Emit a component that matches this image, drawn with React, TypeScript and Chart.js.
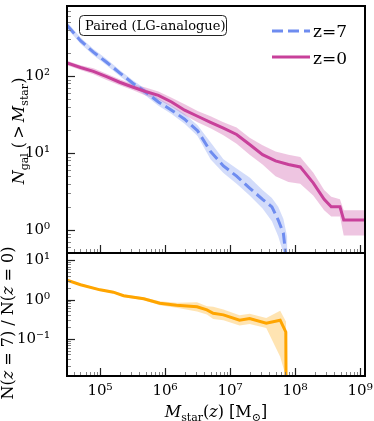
import React, { useEffect, useRef } from 'react';
import { Chart, registerables } from 'chart.js';
Chart.register(...registerables);

// ---------- data ----------
const MASS_Z0 = [3.1e4, 5.0e4, 7.9e4, 1.26e5, 2.0e5, 3.16e5, 5.0e5, 7.9e5, 1.26e6, 2.0e6, 3.16e6, 5.0e6, 7.9e6, 1.26e7, 2.0e7, 3.16e7, 5.0e7, 7.9e7, 1.2e8, 1.9e8, 2.8e8, 3.6e8, 4.9e8, 5.6e8, 1.6e9];
const N_Z0 = [148, 129, 115, 98, 83, 72, 63, 56, 46, 36, 30, 25, 21, 17.4, 12.9, 9.5, 7.9, 7.1, 6.6, 4.1, 2.5, 2.0, 2.0, 1.35, 1.35];
const N_Z0_LO = [138, 120, 105, 89, 76, 66, 56, 49, 40, 31, 25, 21, 17, 13.2, 9.5, 7.1, 5.0, 4.2, 4.0, 2.8, 1.8, 1.5, 1.5, 0.85, 0.85];
const N_Z0_HI = [158, 138, 126, 107, 91, 79, 71, 63, 52, 43, 35, 30, 25, 21.4, 15.8, 12.6, 10.5, 9.5, 8.9, 5.6, 3.3, 2.7, 2.5, 1.8, 1.8];

const MASS_Z7 = [3.1e4, 5.0e4, 7.9e4, 1.26e5, 2.0e5, 3.16e5, 5.0e5, 7.9e5, 1.26e6, 2.0e6, 3.16e6, 5.0e6, 7.9e6, 1.26e7, 2.0e7, 3.16e7, 4.4e7, 5.5e7, 6.6e7, 7.6e7];
const N_Z7 = [457, 288, 204, 151, 110, 81, 62, 46, 36, 27.5, 19.5, 10.5, 6.8, 5.0, 3.5, 2.5, 2.0, 1.35, 0.91, 0.32];
const N_Z7_LO = [417, 263, 186, 138, 100, 74, 56, 41, 32, 24, 16.6, 8.3, 5.5, 4.0, 2.8, 1.9, 1.3, 0.83, 0.5, 0.25];
const N_Z7_HI = [501, 316, 224, 166, 120, 89, 68, 51, 41, 32, 22.9, 13.8, 8.3, 6.3, 4.8, 3.3, 2.6, 2.0, 1.4, 0.8];

const MASS_RATIO = [3.1e4, 5.0e4, 1.0e5, 1.6e5, 2.3e5, 4.7e5, 8.3e5, 1.5e6, 3.1e6, 4.4e6, 5.5e6, 7.9e6, 1.4e7, 2.0e7, 3.6e7, 5.9e7, 7.2e7, 7.3e7];
const RATIO = [3.16, 2.4, 1.78, 1.55, 1.26, 1.05, 0.81, 0.72, 0.66, 0.55, 0.45, 0.41, 0.30, 0.33, 0.25, 0.30, 0.15, 0.001];
const RATIO_LO = [2.95, 2.25, 1.66, 1.45, 1.17, 0.97, 0.72, 0.62, 0.50, 0.42, 0.32, 0.30, 0.22, 0.24, 0.19, 0.035, 0.011, 0.001];
const RATIO_HI = [3.39, 2.57, 1.91, 1.66, 1.35, 1.15, 0.91, 0.83, 0.86, 0.68, 0.66, 0.56, 0.40, 0.44, 0.34, 0.52, 0.28, 0.28];

const X_TICKS = [1e5, 1e6, 1e7, 1e8, 1e9];
const TOP_Y_TICKS = [1, 10, 100];
const BOT_Y_TICKS = [0.1, 1, 10];
const X_RANGE = [3.1e4, 1.19e9];
const TOP_Y_RANGE = [0.503, 811];
const BOT_Y_RANGE = [0.0113, 15.5];

const LEGEND_LABELS = ['z=7', 'z=0'];
const BOX_TEXT = 'Paired (LG-analogue)';

// ---------- styles ----------
const Z0_COLOR = '#c8409a';
const Z0_BAND = 'rgba(200,64,154,0.3)';
const Z7_COLOR = '#6e8cf0';
const Z7_BAND = 'rgba(110,140,240,0.3)';
const R_COLOR = '#ffa500';
const R_BAND = 'rgba(255,165,0,0.3)';
const SERIF = '"DejaVu Serif", serif';

const SUP: Record<string, string> = { '-': '⁻', '0': '⁰', '1': '¹', '2': '²', '3': '³', '4': '⁴', '5': '⁵', '6': '⁶', '7': '⁷', '8': '⁸', '9': '⁹' };
const fmtPow = (v: number) => {
  const e = Math.round(Math.log10(v));
  return '10' + String(e).split('').map((c) => SUP[c]).join('');
};
const pts = (xs: number[], ys: number[]) => xs.map((x, i) => ({ x, y: ys[i] }));

type Seg = { t: string; it?: boolean; sub?: boolean };
function drawRich(ctx: CanvasRenderingContext2D, segs: Seg[], cx: number, cy: number, size: number, rotate: boolean) {
  ctx.save();
  ctx.translate(cx, cy);
  if (rotate) ctx.rotate(-Math.PI / 2);
  const fontOf = (s: Seg) => `${s.it ? 'italic ' : ''}${s.sub ? Math.round(size * 0.7) : size}px ${SERIF}`;
  let total = 0;
  const widths = segs.map((s) => {
    ctx.font = fontOf(s);
    const w = ctx.measureText(s.t).width;
    total += w;
    return w;
  });
  let x = -total / 2;
  ctx.textBaseline = 'alphabetic';
  ctx.textAlign = 'left';
  ctx.fillStyle = '#000';
  segs.forEach((s, i) => {
    ctx.font = fontOf(s);
    ctx.fillText(s.t, x, s.sub ? size * 0.22 : 0);
    x += widths[i];
  });
  ctx.restore();
}

function drawFrameAndTicks(chart: any) {
  const { ctx, chartArea: a } = chart;
  const xs = chart.scales.x;
  const ys = chart.scales.y;
  ctx.save();
  const logTicks = (scale: any, isX: boolean) => {
    const lo = Math.floor(Math.log10(scale.min));
    const hi = Math.ceil(Math.log10(scale.max));
    for (let d = lo; d <= hi; d++) {
      for (let k = 1; k <= 9; k++) {
        const v = k * Math.pow(10, d);
        if (v < scale.min || v > scale.max) continue;
        const p = Math.round(scale.getPixelForValue(v)) + 0.5;
        const major = k === 1;
        const len = major ? 8 : 4;
        ctx.lineWidth = major ? 1.2 : 0.9;
        ctx.strokeStyle = major ? '#222' : '#777';
        ctx.beginPath();
        if (isX) {
          ctx.moveTo(p, a.bottom);
          ctx.lineTo(p, a.bottom - len);
        } else {
          ctx.moveTo(a.left, p);
          ctx.lineTo(a.left + len, p);
        }
        ctx.stroke();
      }
    }
  };
  logTicks(xs, true);
  logTicks(ys, false);
  ctx.lineWidth = 2;
  ctx.strokeStyle = '#000';
  ctx.strokeRect(a.left, a.top, a.right - a.left, a.bottom - a.top);
  ctx.restore();
}

const topPlugin = {
  id: 'topDecor',
  afterDraw(chart: any) {
    drawFrameAndTicks(chart);
    const ctx = chart.ctx as CanvasRenderingContext2D;
    ctx.save();
    // text box
    const bx = 79.5, by = 15.5, bw = 147, bh = 20, r = 4;
    ctx.beginPath();
    ctx.moveTo(bx + r, by);
    ctx.arcTo(bx + bw, by, bx + bw, by + bh, r);
    ctx.arcTo(bx + bw, by + bh, bx, by + bh, r);
    ctx.arcTo(bx, by + bh, bx, by, r);
    ctx.arcTo(bx, by, bx + bw, by, r);
    ctx.closePath();
    ctx.fillStyle = '#fff';
    ctx.fill();
    ctx.lineWidth = 1;
    ctx.strokeStyle = '#222';
    ctx.stroke();
    ctx.fillStyle = '#000';
    ctx.font = `13px ${SERIF}`;
    ctx.textBaseline = 'alphabetic';
    ctx.fillText(BOX_TEXT, 85, 30);
    // legend
    ctx.lineWidth = 3;
    ctx.strokeStyle = Z7_COLOR;
    ctx.setLineDash([11, 5]);
    ctx.beginPath();
    ctx.moveTo(272, 31);
    ctx.lineTo(310, 31);
    ctx.stroke();
    ctx.setLineDash([]);
    ctx.strokeStyle = Z0_COLOR;
    ctx.beginPath();
    ctx.moveTo(272, 57);
    ctx.lineTo(310, 57);
    ctx.stroke();
    ctx.font = `17px ${SERIF}`;
    ctx.fillStyle = '#000';
    ctx.fillText(LEGEND_LABELS[0], 313, 37);
    ctx.fillText(LEGEND_LABELS[1], 313, 64);
    ctx.restore();
    // y title
    drawRich(ctx, [
      { t: 'N', it: true }, { t: 'gal', sub: true }, { t: ' (\u2009>\u2009' }, { t: 'M', it: true }, { t: 'star', sub: true }, { t: ')' },
    ], 24, 131, 16, true);
  },
};

const botPlugin = {
  id: 'botDecor',
  afterDraw(chart: any) {
    drawFrameAndTicks(chart);
    const ctx = chart.ctx as CanvasRenderingContext2D;
    drawRich(ctx, [
      { t: 'N(' }, { t: 'z', it: true }, { t: ' = 7) / N(' }, { t: 'z', it: true }, { t: ' = 0)' },
    ], 13, 93, 16, true);
    drawRich(ctx, [
      { t: 'M', it: true }, { t: 'star', sub: true }, { t: '(' }, { t: 'z', it: true }, { t: ') [M' }, { t: '⊙', sub: true }, { t: ']' },
    ], 216, 187, 16, false);
  },
};

const band = (data: any[], color: string, fill: any, order: number) => ({
  data, borderColor: 'rgba(0,0,0,0)', borderWidth: 1, pointRadius: 0, backgroundColor: color, fill, order, clip: 0, tension: 0,
});

export default function App() {
  const topRef = useRef<HTMLCanvasElement>(null);
  const botRef = useRef<HTMLCanvasElement>(null);

  useEffect(() => {
    const tickFont = { family: SERIF, size: 15 };
    const top = new Chart(topRef.current as HTMLCanvasElement, {
      type: 'line',
      data: {
        datasets: [
          band(pts(MASS_Z0, N_Z0_LO), Z0_BAND, false, 5),
          band(pts(MASS_Z0, N_Z0_HI), Z0_BAND, '-1', 5),
          band(pts(MASS_Z7, N_Z7_LO), Z7_BAND, false, 4),
          band(pts(MASS_Z7, N_Z7_HI), Z7_BAND, '-1', 4),
          { label: LEGEND_LABELS[0], data: pts(MASS_Z7, N_Z7), borderColor: Z7_COLOR, borderWidth: 3, borderDash: [11, 5], pointRadius: 0, fill: false, order: 2, clip: 0 },
          { label: LEGEND_LABELS[1], data: pts(MASS_Z0, N_Z0), borderColor: Z0_COLOR, borderWidth: 3, pointRadius: 0, fill: false, order: 1, clip: 0 },
        ] as any,
      },
      options: {
        responsive: false,
        maintainAspectRatio: false,
        animation: false,
        events: [],
        layout: { padding: { top: 6, right: 9, bottom: 3, left: 0 } },
        plugins: { legend: { display: false }, tooltip: { enabled: false } },
        scales: {
          x: { type: 'logarithmic', min: X_RANGE[0], max: X_RANGE[1], display: false },
          y: {
            type: 'logarithmic', min: TOP_Y_RANGE[0], max: TOP_Y_RANGE[1],
            grid: { display: false }, border: { display: false },
            afterBuildTicks: (s: any) => { s.ticks = TOP_Y_TICKS.map((v) => ({ value: v })); },
            afterFit: (s: any) => { s.width = 67; s.paddingTop = 0; s.paddingBottom = 0; },
            ticks: { callback: (v: any) => fmtPow(Number(v)), font: tickFont, color: '#000', padding: 9, autoSkip: false },
          },
        },
      } as any,
      plugins: [topPlugin],
    });

    const bot = new Chart(botRef.current as HTMLCanvasElement, {
      type: 'line',
      data: {
        datasets: [
          band(pts(MASS_RATIO, RATIO_LO), R_BAND, false, 5),
          band(pts(MASS_RATIO, RATIO_HI), R_BAND, '-1', 5),
          { label: 'ratio', data: pts(MASS_RATIO, RATIO), borderColor: R_COLOR, borderWidth: 3, pointRadius: 0, fill: false, order: 1, clip: 0 },
        ] as any,
      },
      options: {
        responsive: false,
        maintainAspectRatio: false,
        animation: false,
        events: [],
        layout: { padding: { top: 23, right: 9, bottom: 0, left: 0 } },
        plugins: { legend: { display: false }, tooltip: { enabled: false } },
        scales: {
          x: {
            type: 'logarithmic', min: X_RANGE[0], max: X_RANGE[1],
            grid: { display: false }, border: { display: false },
            afterBuildTicks: (s: any) => { s.ticks = X_TICKS.map((v) => ({ value: v })); },
            afterFit: (s: any) => { s.height = 45; s.paddingLeft = 0; s.paddingRight = 0; },
            ticks: { callback: (v: any) => fmtPow(Number(v)), font: tickFont, color: '#000', padding: -2, autoSkip: false, maxRotation: 0, minRotation: 0 },
          },
          y: {
            type: 'logarithmic', min: BOT_Y_RANGE[0], max: BOT_Y_RANGE[1],
            grid: { display: false }, border: { display: false },
            afterBuildTicks: (s: any) => { s.ticks = BOT_Y_TICKS.map((v) => ({ value: v })); },
            afterFit: (s: any) => { s.width = 67; s.paddingTop = 0; s.paddingBottom = 0; },
            ticks: { callback: (v: any) => fmtPow(Number(v)), font: tickFont, color: '#000', padding: 9, autoSkip: false },
          },
        },
      } as any,
      plugins: [botPlugin],
    });

    return () => { top.destroy(); bot.destroy(); };
  }, []);

  return (
    <div style={{ position: 'absolute', left: 0, top: 0, width: 374, height: 421, background: '#fff' }}>
      <canvas ref={topRef} width={374} height={256} style={{ position: 'absolute', left: 0, top: 0, width: 374, height: 256 }} />
      <canvas ref={botRef} width={374} height={191} style={{ position: 'absolute', left: 0, top: 230, width: 374, height: 191 }} />
    </div>
  );
}
